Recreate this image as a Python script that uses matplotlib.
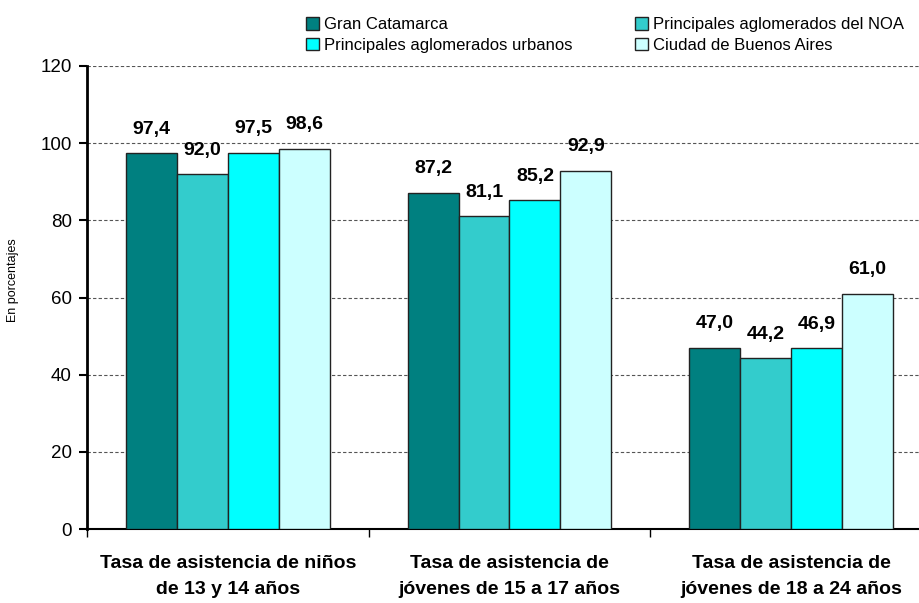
import matplotlib
matplotlib.use("Agg")
import matplotlib.pyplot as plt
import numpy as np
from matplotlib.patches import Patch
from matplotlib.ticker import FixedLocator

plt.rcParams['font.family'] = ['Liberation Sans', 'DejaVu Sans']

categories = ["Tasa de asistencia de niños\nde 13 y 14 años",
              "Tasa de asistencia de\njóvenes de 15 a 17 años",
              "Tasa de asistencia de\njóvenes de 18 a 24 años"]
series_names = ["Gran Catamarca", "Principales aglomerados del NOA",
                "Principales aglomerados urbanos", "Ciudad de Buenos Aires"]
gran_catamarca = [97.4, 87.2, 47.0]
aglomerados_noa = [92.0, 81.1, 44.2]
aglomerados_urbanos = [97.5, 85.2, 46.9]
ciudad_bsas = [98.6, 92.9, 61.0]
values = [gran_catamarca, aglomerados_noa, aglomerados_urbanos, ciudad_bsas]
colors = ["#008080", "#33CCCC", "#00FFFF", "#CCFFFF"]
y_ticks = [0, 20, 40, 60, 80, 100, 120]

W, H = 920, 603
fig = plt.figure(figsize=(W / 100, H / 100), dpi=100)
ax = fig.add_axes([87 / W, 74 / H, (932 - 87) / W, 463 / H])

x = np.arange(len(categories))
bw = 0.181
for j, (vals, col) in enumerate(zip(values, colors)):
    pos = x + (j - 1.5) * bw
    bars = ax.bar(pos, vals, width=bw, color=col, edgecolor="#222222",
                  linewidth=1.0, zorder=3, label=series_names[j])
    for xp, v in zip(pos, vals):
        ax.annotate(f"{v:.1f}".replace(".", ","), (xp, v), xytext=(0, 17.3),
                    textcoords="offset points", ha="center", va="center",
                    fontsize=14, fontweight="bold", zorder=4)

ax.set_xlim(-0.5, 2.5)
ax.set_ylim(0, 120)
ax.set_yticks(y_ticks)
ax.tick_params(axis="y", length=6, width=1.5, labelsize=13.5, pad=5)
ax.yaxis.grid(True, linestyle=(0, (3, 2)), color="#555555", linewidth=0.8, zorder=0)
ax.set_axisbelow(True)

ax.set_xticks(x)
ax.set_xticklabels(categories, fontsize=14, fontweight="bold", linespacing=1.72)
ax.tick_params(axis="x", which="major", length=0, pad=18.5)
ax.xaxis.set_minor_locator(FixedLocator([-0.5, 0.5, 1.5, 2.5]))
ax.tick_params(axis="x", which="minor", length=6, width=1.0)

for s in ["top", "right"]:
    ax.spines[s].set_visible(False)
ax.spines["left"].set_linewidth(2)
ax.spines["bottom"].set_linewidth(1.5)

fig.text(13 / W, 1 - 280 / H, "En porcentajes", rotation=90, fontsize=9,
         ha="center", va="center")

handles = [Patch(facecolor=c, edgecolor="#222222", linewidth=1.0) for c in colors]
order = [0, 2, 1, 3]
leg = fig.legend([handles[i] for i in order], [series_names[i] for i in order],
                 ncol=2, loc="upper left", bbox_to_anchor=(306 / W, 1 - 17 / H),
                 frameon=False, fontsize=12, handlelength=0.78, handleheight=0.78,
                 handletextpad=0.3, columnspacing=3.75, labelspacing=0.35,
                 borderpad=0, borderaxespad=0)

fig.savefig("out.png", dpi=100)
